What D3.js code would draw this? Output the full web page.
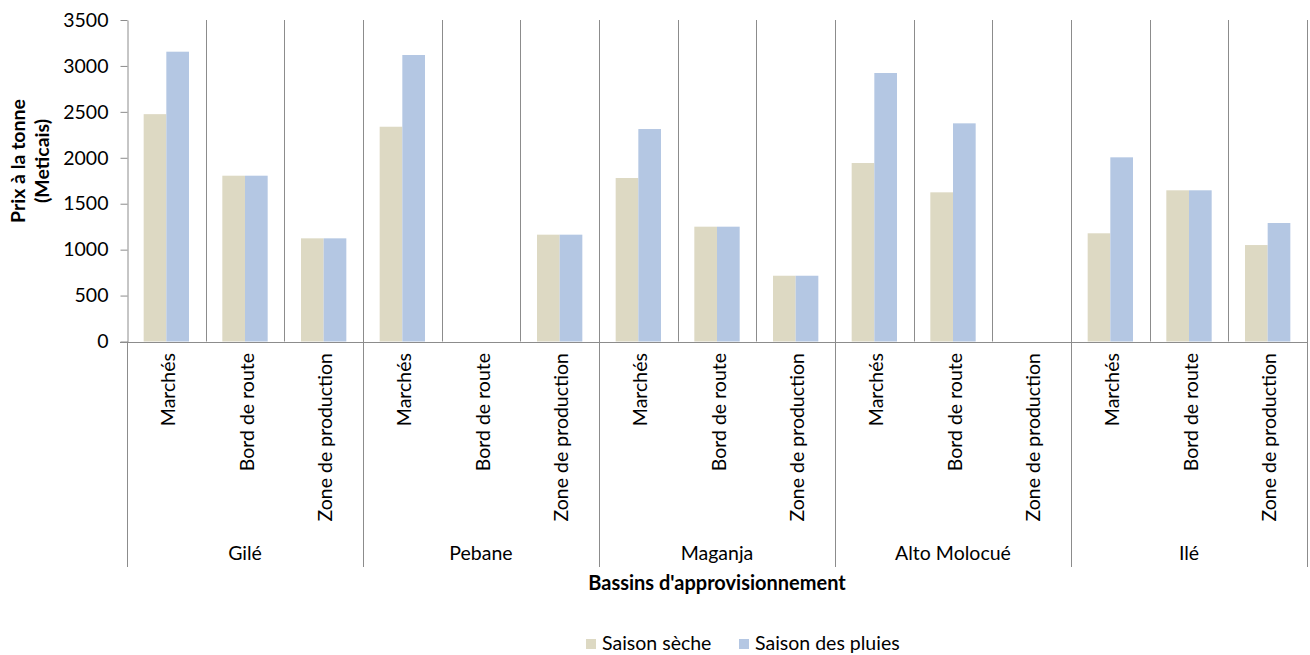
<!DOCTYPE html>
<html>
<head>
<meta charset="utf-8">
<script src="https://cdn.jsdelivr.net/npm/d3@7/dist/d3.min.js"></script>
<style>
  html, body { margin: 0; padding: 0; background: #fff; }
  svg text { font-family: Lato, "Open Sans", sans-serif; fill: #000; }
</style>
</head>
<body>
<svg id="chart" width="1310" height="655"></svg>
<script>
// Supply basins and the three selling places within each
const groups = ["Gilé", "Pebane", "Maganja", "Alto Molocué", "Ilé"];
const sites = ["Marchés", "Bord de route", "Zone de production"];

// Price per tonne (Meticais), one value per basin × site, null where no data
const saisonSeche  = [2475, 1805, 1123,  2338, null, 1163,  1780, 1250, 716,  1943, 1624, null,  1178, 1646, 1050];
const saisonPluies = [3155, 1805, 1123,  3119, null, 1163,  2313, 1250, 716,  2923, 2375, null,  2005, 1646, 1290];

const seriesNames = ["Saison sèche", "Saison des pluies"];
const seriesColors = ["#DDD9C3", "#B4C7E3"];
const yTicks = [0, 500, 1000, 1500, 2000, 2500, 3000, 3500];

const svg = d3.select("#chart");
const plotLeft = 127, plotRight = 1307, plotTop = 20, plotBottom = 341.5, lowerEnd = 567;
const labelSize = 19.5, titleSize = 19.5;

const rows = [];
groups.forEach((g, gi) => sites.forEach((s, si) => {
  const i = gi * sites.length + si;
  rows.push({ key: g + "|" + s, group: g, site: s, values: [saisonSeche[i], saisonPluies[i]] });
}));

const x = d3.scaleBand().domain(rows.map(d => d.key)).range([plotLeft, plotRight]);
const xInner = d3.scaleBand().domain(seriesNames).range([0, x.bandwidth()]).paddingOuter(0.735);
const y = d3.scaleLinear().domain([0, 3500]).range([plotBottom, plotTop]);

const axisColor = "#8c8c8c";

// Vertical separators between sites (inside plot) and between basins (extended below)
rows.forEach((d, i) => {
  if (i === 0) return;
  const xp = Math.round(x(d.key)) + 0.5;
  const isGroupEdge = i % sites.length === 0;
  svg.append("line")
    .attr("x1", xp).attr("x2", xp)
    .attr("y1", plotTop).attr("y2", isGroupEdge ? lowerEnd : plotBottom)
    .attr("stroke", axisColor).attr("stroke-width", 1);
});
// Right border
svg.append("line")
  .attr("x1", Math.round(plotRight) + 0.5).attr("x2", Math.round(plotRight) + 0.5)
  .attr("y1", plotTop).attr("y2", lowerEnd)
  .attr("stroke", axisColor).attr("stroke-width", 1);

// Bars
const cells = svg.append("g").selectAll("g").data(rows).join("g")
  .attr("transform", d => `translate(${x(d.key)},0)`);
cells.selectAll("rect")
  .data(d => d.values.map((v, k) => ({ v, k })).filter(e => e.v != null))
  .join("rect")
  .attr("x", e => xInner(seriesNames[e.k]))
  .attr("width", xInner.bandwidth())
  .attr("y", e => y(e.v))
  .attr("height", e => y(0) - y(e.v))
  .attr("fill", e => seriesColors[e.k]);

// Y axis
const yAxis = svg.append("g")
  .attr("transform", `translate(${plotLeft + 0.5},0)`)
  .call(d3.axisLeft(y).tickValues(yTicks).tickFormat(d3.format("d"))
    .tickSize(7).tickSizeOuter(0).tickPadding(12));
yAxis.select(".domain").attr("stroke", axisColor);
yAxis.selectAll(".tick line").attr("stroke", axisColor);
yAxis.selectAll(".tick text").attr("font-size", labelSize).attr("font-family", "Lato, sans-serif").attr("fill", "#000");

// X axis baseline
svg.append("line")
  .attr("x1", plotLeft - 7).attr("x2", plotRight + 1)
  .attr("y1", Math.round(plotBottom) + 0.5).attr("y2", Math.round(plotBottom) + 0.5)
  .attr("stroke", axisColor);
// Left border continues below the axis
svg.append("line")
  .attr("x1", plotLeft + 0.5).attr("x2", plotLeft + 0.5)
  .attr("y1", plotBottom).attr("y2", lowerEnd)
  .attr("stroke", axisColor);

// Site labels (rotated)
svg.append("g").selectAll("text").data(rows).join("text")
  .attr("transform", d => `translate(${x(d.key) + x.bandwidth() / 2 + 1},353) rotate(-90)`)
  .attr("text-anchor", "end")
  .attr("dominant-baseline", "central")
  .attr("font-size", labelSize)
  .text(d => d.site);

// Basin labels
svg.append("g").selectAll("text").data(groups).join("text")
  .attr("x", (g, gi) => (x(rows[gi * 3].key) + x(rows[gi * 3 + 2].key) + x.bandwidth()) / 2)
  .attr("y", 560)
  .attr("text-anchor", "middle")
  .attr("font-size", labelSize)
  .text(g => g);

// Axis titles
svg.append("text")
  .attr("x", 717).attr("y", 590)
  .attr("text-anchor", "middle")
  .attr("font-size", 20).attr("font-weight", "bold")
  .text("Bassins d'approvisionnement");

const yTitle = svg.append("text")
  .attr("transform", "translate(0,161) rotate(-90)")
  .attr("text-anchor", "middle")
  .attr("font-size", titleSize).attr("font-weight", "bold");
yTitle.append("tspan").attr("x", 0).attr("y", 25).text("Prix à la tonne");
yTitle.append("tspan").attr("x", 0).attr("y", 49).text("(Meticais)");

// Legend
const legendItems = [{ name: seriesNames[0], x: 586 }, { name: seriesNames[1], x: 739 }];
const lg = svg.append("g").selectAll("g").data(legendItems).join("g")
  .attr("transform", d => `translate(${d.x},639)`);
lg.append("rect").attr("width", 10).attr("height", 10)
  .attr("fill", (d, i) => seriesColors[i]);
lg.append("text").attr("x", 16).attr("y", 11)
  .attr("font-size", labelSize)
  .text(d => d.name);
</script>
</body>
</html>
